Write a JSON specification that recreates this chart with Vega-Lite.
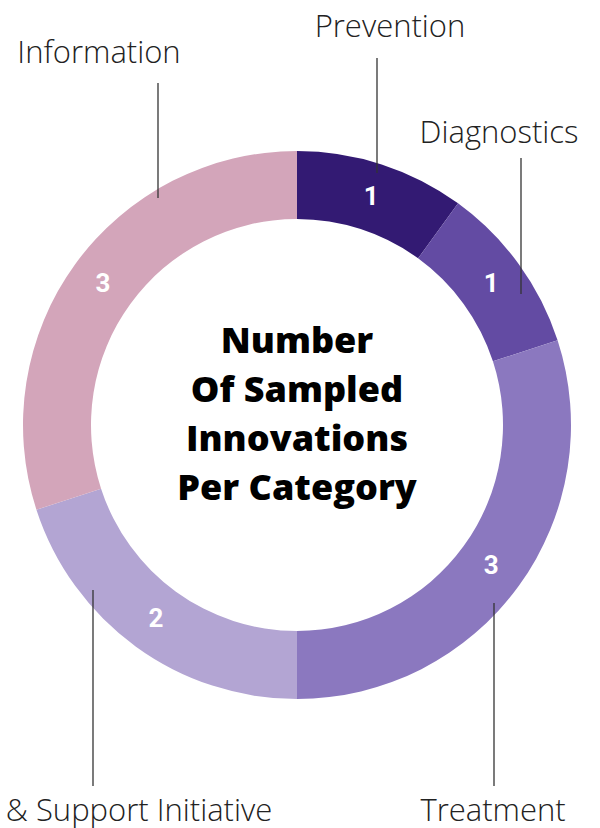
{
  "$schema": "https://vega.github.io/schema/vega-lite/v6.json",
  "width": 600,
  "height": 828,
  "autosize": {"type": "fit", "contains": "padding"},
  "padding": 0,
  "background": "white",
  "config": {"view": {"stroke": null}},
  "datasets": {
    "cats": [
      {"cat": "Prevention", "n": 1, "ord": 1, "cx": 0, "cy": 0},
      {"cat": "Diagnostics", "n": 1, "ord": 2, "cx": 0, "cy": 0},
      {"cat": "Treatment", "n": 3, "ord": 3, "cx": 0, "cy": 0},
      {"cat": "& Support Initiative", "n": 2, "ord": 4, "cx": 0, "cy": 0},
      {"cat": "Information", "n": 3, "ord": 5, "cx": 0, "cy": 0}
    ],
    "lines": [
      {"cat": "Information", "x": -139, "y": 342, "y2": 227},
      {"cat": "Prevention", "x": 80, "y": 367, "y2": 252},
      {"cat": "Diagnostics", "x": 224, "y": 267, "y2": 131},
      {"cat": "& Support Initiative", "x": -204, "y": -165, "y2": -361},
      {"cat": "Treatment", "x": 197, "y": -178, "y2": -361}
    ],
    "labels": [
      {"label": "Information", "x": -198, "y": 362},
      {"label": "Prevention", "x": 93, "y": 388},
      {"label": "Diagnostics", "x": 202, "y": 282},
      {"label": "& Support Initiative", "x": -158, "y": -396},
      {"label": "Treatment", "x": 196, "y": -396}
    ],
    "title": [
      {"t": "Number|Of Sampled|Innovations|Per Category", "x": 0, "y": 72}
    ]
  },
  "layer": [
    {
      "data": {"name": "cats"},
      "mark": {"type": "arc", "innerRadius": 206, "outerRadius": 274},
      "encoding": {
        "theta": {"field": "n", "type": "quantitative", "stack": true},
        "order": {"field": "ord", "type": "quantitative"},
        "color": {
          "field": "cat", "type": "nominal",
          "scale": {
            "domain": ["Prevention", "Diagnostics", "Treatment", "& Support Initiative", "Information"],
            "range": ["#331a73", "#634ba3", "#8b78bf", "#b3a5d3", "#d3a5ba"]
          },
          "legend": null
        },
        "x": {"field": "cx", "type": "quantitative", "scale": {"domain": [-297, 303], "nice": false, "zero": false}, "axis": null},
        "y": {"field": "cy", "type": "quantitative", "scale": {"domain": [-403, 425], "nice": false, "zero": false}, "axis": null}
      }
    },
    {
      "data": {"name": "cats"},
      "mark": {"type": "text", "radius": 240, "fontSize": 26, "fontWeight": "bold", "font": "Roboto", "fill": "white"},
      "encoding": {
        "theta": {"field": "n", "type": "quantitative", "stack": true},
        "order": {"field": "ord", "type": "quantitative"},
        "text": {"field": "n", "type": "quantitative"},
        "x": {"field": "cx", "type": "quantitative", "scale": {"domain": [-297, 303], "nice": false, "zero": false}, "axis": null},
        "y": {"field": "cy", "type": "quantitative", "scale": {"domain": [-403, 425], "nice": false, "zero": false}, "axis": null}
      }
    },
    {
      "data": {"name": "lines"},
      "mark": {"type": "rule", "stroke": "#333333", "strokeWidth": 1.3},
      "encoding": {
        "x": {"field": "x", "type": "quantitative", "scale": {"domain": [-297, 303], "nice": false, "zero": false}, "axis": null},
        "y": {"field": "y", "type": "quantitative", "scale": {"domain": [-403, 425], "nice": false, "zero": false}, "axis": null},
        "y2": {"field": "y2"}
      }
    },
    {
      "data": {"name": "labels"},
      "mark": {"type": "text", "font": "Open Sans", "fontWeight": 300, "fontSize": 31, "fill": "#222222", "baseline": "alphabetic", "align": "center"},
      "encoding": {
        "text": {"field": "label", "type": "nominal"},
        "x": {"field": "x", "type": "quantitative", "scale": {"domain": [-297, 303], "nice": false, "zero": false}, "axis": null},
        "y": {"field": "y", "type": "quantitative", "scale": {"domain": [-403, 425], "nice": false, "zero": false}, "axis": null}
      }
    },
    {
      "data": {"name": "title"},
      "mark": {"type": "text", "font": "Open Sans", "fontWeight": 800, "fontSize": 36, "lineBreak": "|", "lineHeight": 49, "fill": "black", "baseline": "alphabetic", "align": "center"},
      "encoding": {
        "text": {"field": "t", "type": "nominal"},
        "x": {"field": "x", "type": "quantitative", "scale": {"domain": [-297, 303], "nice": false, "zero": false}, "axis": null},
        "y": {"field": "y", "type": "quantitative", "scale": {"domain": [-403, 425], "nice": false, "zero": false}, "axis": null}
      }
    }
  ]
}
